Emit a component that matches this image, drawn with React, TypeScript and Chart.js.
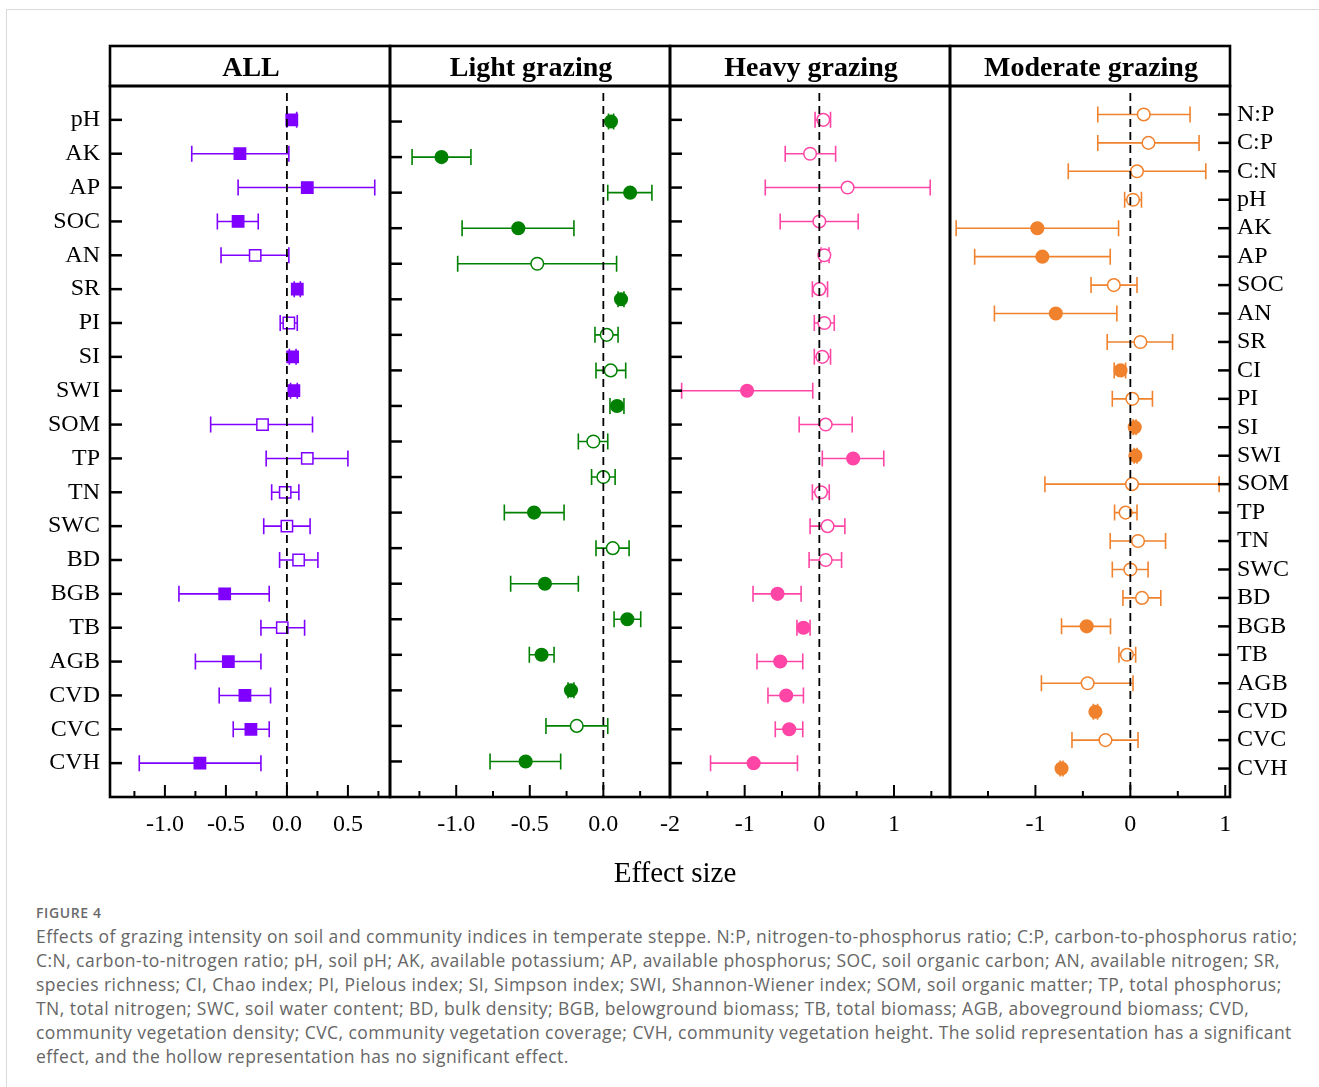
import React, { useEffect, useRef } from 'react';
import { Chart, registerables } from 'chart.js';

Chart.register(...registerables);

const SERIF = "'Liberation Serif', 'Times New Roman', serif";
const CAPTION_FONT = "'Open Sans', 'Noto Sans', sans-serif";

// ---- ALL ----
const allCategories = ['pH', 'AK', 'AP', 'SOC', 'AN', 'SR', 'PI', 'SI', 'SWI', 'SOM', 'TP', 'TN', 'SWC', 'BD', 'BGB', 'TB', 'AGB', 'CVD', 'CVC', 'CVH'];
const allMean = [0.04, -0.385, 0.167, -0.4, -0.26, 0.085, 0.016, 0.047, 0.057, -0.2, 0.167, -0.014, 0.0, 0.096, -0.51, -0.038, -0.48, -0.344, -0.295, -0.713];
const allLower = [0.0, -0.78, -0.4, -0.57, -0.54, 0.06, -0.055, 0.02, 0.03, -0.625, -0.17, -0.125, -0.19, -0.06, -0.885, -0.213, -0.75, -0.555, -0.44, -1.21];
const allUpper = [0.08, 0.016, 0.72, -0.235, 0.016, 0.11, 0.085, 0.075, 0.085, 0.21, 0.5, 0.098, 0.19, 0.254, -0.145, 0.145, -0.213, -0.134, -0.145, -0.213];
const allSignificant = [true, true, true, true, false, true, false, true, true, false, false, false, false, false, true, false, true, true, true, true];

// ---- Light grazing ----
const lightCategories = ['pH', 'AK', 'AP', 'SOC', 'AN', 'SR', 'PI', 'SI', 'SWI', 'SOM', 'TP', 'TN', 'SWC', 'BGB', 'TB', 'AGB', 'CVD', 'CVC', 'CVH'];
const lightMean = [0.052, -1.1, 0.182, -0.578, -0.449, 0.12, 0.023, 0.05, 0.093, -0.068, 0.0, -0.471, 0.064, -0.397, 0.163, -0.42, -0.22, -0.181, -0.528];
const lightLower = [0.035, -1.3, 0.03, -0.96, -0.99, 0.1, -0.057, -0.05, 0.045, -0.17, -0.08, -0.673, -0.05, -0.63, 0.073, -0.503, -0.24, -0.39, -0.77];
const lightUpper = [0.07, -0.9, 0.33, -0.2, 0.09, 0.14, 0.1, 0.152, 0.14, 0.03, 0.08, -0.267, 0.175, -0.17, 0.254, -0.335, -0.2, 0.03, -0.29];
const lightSignificant = [true, true, true, true, false, true, false, false, true, false, false, true, false, true, true, true, true, false, true];

// ---- Heavy grazing ----
const heavyCategories = ['pH', 'AK', 'AP', 'SOC', 'AN', 'SR', 'PI', 'SI', 'SWI', 'SOM', 'TP', 'TN', 'SWC', 'BD', 'BGB', 'TB', 'AGB', 'CVD', 'CVC', 'CVH'];
const heavyMean = [0.053, -0.124, 0.378, 0.0, 0.067, 0.0, 0.067, 0.04, -0.968, 0.085, 0.453, 0.022, 0.11, 0.085, -0.56, -0.213, -0.524, -0.444, -0.404, -0.88];
const heavyLower = [-0.057, -0.457, -0.724, -0.524, 0.022, -0.093, -0.067, -0.067, -1.844, -0.27, 0.04, -0.093, -0.124, -0.137, -0.888, -0.3, -0.835, -0.688, -0.59, -1.457];
const heavyUpper = [0.15, 0.218, 1.485, 0.52, 0.13, 0.11, 0.2, 0.15, -0.088, 0.44, 0.863, 0.133, 0.342, 0.298, -0.244, -0.124, -0.222, -0.213, -0.222, -0.293];
const heavySignificant = [false, false, false, false, false, false, false, false, true, false, true, false, false, false, true, true, true, true, true, true];

// ---- Moderate grazing ----
const moderateCategories = ['N:P', 'C:P', 'C:N', 'pH', 'AK', 'AP', 'SOC', 'AN', 'SR', 'CI', 'PI', 'SI', 'SWI', 'SOM', 'TP', 'TN', 'SWC', 'BD', 'BGB', 'TB', 'AGB', 'CVD', 'CVC', 'CVH'];
const moderateMean = [0.141, 0.191, 0.07, 0.028, -0.98, -0.927, -0.174, -0.785, 0.106, -0.103, 0.021, 0.046, 0.053, 0.017, -0.05, 0.081, 0.0, 0.123, -0.46, -0.036, -0.45, -0.368, -0.262, -0.725];
const moderateLower = [-0.343, -0.343, -0.654, -0.06, -1.835, -1.64, -0.414, -1.432, -0.244, -0.17, -0.19, 0.03, 0.04, -0.9, -0.166, -0.212, -0.19, -0.078, -0.725, -0.12, -0.937, -0.39, -0.615, -0.74];
const moderateUpper = [0.629, 0.724, 0.795, 0.117, -0.124, -0.212, 0.07, -0.142, 0.445, -0.05, 0.233, 0.06, 0.07, 0.936, 0.07, 0.371, 0.187, 0.321, -0.209, 0.056, 0.028, -0.345, 0.081, -0.71];
const moderateSignificant = [false, false, false, false, true, true, false, true, false, true, false, true, true, false, false, false, false, false, true, false, false, true, false, true];

// ---- x-axis ticks (empty label = minor tick) ----
const fineTicks = [-1.25, -1.0, -0.75, -0.5, -0.25, 0, 0.25, 0.5, 0.75];
const fineTickLabels = ['', '-1.0', '', '-0.5', '', '0.0', '', '0.5', ''];
const lightTicks = [-1.25, -1.0, -0.75, -0.5, -0.25, 0, 0.25];
const lightTickLabels = ['', '-1.0', '', '-0.5', '', '0.0', ''];
const heavyTicks = [-2, -1.5, -1, -0.5, 0, 0.5, 1, 1.5];
const heavyTickLabels = ['-2', '', '-1', '', '0', '', '1', ''];
const moderateTicks = [-1.5, -1, -0.5, 0, 0.5, 1];
const moderateTickLabels = ['', '-1', '', '0', '', '1'];

const CANVAS_W = 1319;
const CANVAS_H = 900;
const PLOT_TOP = 86;
const PLOT_BOTTOM = 797;
const HEADER_TOP = 46;
const X_AXIS_H = 60;

type Panel = {
  title: string;
  categories: string[];
  mean: number[];
  lower: number[];
  upper: number[];
  significant: boolean[];
  color: string;
  shape: 'rect' | 'circle';
  xMin: number;
  xMax: number;
  xTicks: number[];
  xTickLabels: string[];
  left: number;
  right: number;
  labelSide: 'left' | 'right' | 'none';
};

const panels: Panel[] = [
  {
    title: 'ALL', categories: allCategories, mean: allMean, lower: allLower, upper: allUpper,
    significant: allSignificant, color: '#7f00ff', shape: 'rect', xMin: -1.45, xMax: 0.845,
    xTicks: fineTicks, xTickLabels: fineTickLabels, left: 110, right: 390, labelSide: 'left',
  },
  {
    title: 'Light grazing', categories: lightCategories, mean: lightMean, lower: lightLower, upper: lightUpper,
    significant: lightSignificant, color: '#008000', shape: 'circle', xMin: -1.45, xMax: 0.453,
    xTicks: lightTicks, xTickLabels: lightTickLabels, left: 390, right: 670, labelSide: 'none',
  },
  {
    title: 'Heavy grazing', categories: heavyCategories, mean: heavyMean, lower: heavyLower, upper: heavyUpper,
    significant: heavySignificant, color: '#ff45a5', shape: 'circle', xMin: -2, xMax: 1.75,
    xTicks: heavyTicks, xTickLabels: heavyTickLabels, left: 670, right: 950, labelSide: 'none',
  },
  {
    title: 'Moderate grazing', categories: moderateCategories, mean: moderateMean, lower: moderateLower, upper: moderateUpper,
    significant: moderateSignificant, color: '#f0822d', shape: 'circle', xMin: -1.9, xMax: 1.05,
    xTicks: moderateTicks, xTickLabels: moderateTickLabels, left: 950, right: 1230, labelSide: 'right',
  },
];

const captionLines = [
  'Effects of grazing intensity on soil and community indices in temperate steppe. N:P, nitrogen-to-phosphorus ratio; C:P, carbon-to-phosphorus ratio;',
  'C:N, carbon-to-nitrogen ratio; pH, soil pH; AK, available potassium; AP, available phosphorus; SOC, soil organic carbon; AN, available nitrogen; SR,',
  'species richness; CI, Chao index; PI, Pielous index; SI, Simpson index; SWI, Shannon-Wiener index; SOM, soil organic matter; TP, total phosphorus;',
  'TN, total nitrogen; SWC, soil water content; BD, bulk density; BGB, belowground biomass; TB, total biomass; AGB, aboveground biomass; CVD,',
  'community vegetation density; CVC, community vegetation coverage; CVH, community vegetation height. The solid representation has a significant',
  'effect, and the hollow representation has no significant effect.',
];

// Error bars under the markers; zero line, frame, inward ticks and header on top.
function panelPlugin(p: Panel) {
  return {
    id: 'forestPanel',
    beforeDatasetsDraw(chart: any) {
      const { ctx, scales } = chart;
      const x = scales.x;
      const y = scales.y;
      ctx.save();
      ctx.strokeStyle = p.color;
      ctx.lineWidth = 1.6;
      p.mean.forEach((_, i) => {
        const yy = y.getPixelForValue(i);
        const x0 = x.getPixelForValue(p.lower[i]);
        const x1 = x.getPixelForValue(p.upper[i]);
        ctx.beginPath();
        ctx.moveTo(x0, yy);
        ctx.lineTo(x1, yy);
        ctx.moveTo(x0, yy - 8);
        ctx.lineTo(x0, yy + 8);
        ctx.moveTo(x1, yy - 8);
        ctx.lineTo(x1, yy + 8);
        ctx.stroke();
      });
      ctx.restore();
    },
    afterDatasetsDraw(chart: any) {
      const { ctx, chartArea: a, scales } = chart;
      const x = scales.x;
      const y = scales.y;
      ctx.save();

      // zero reference line
      const zx = x.getPixelForValue(0);
      ctx.strokeStyle = '#000';
      ctx.lineWidth = 1.8;
      ctx.setLineDash([8, 5]);
      ctx.beginPath();
      ctx.moveTo(zx, a.top + 7);
      ctx.lineTo(zx, a.bottom);
      ctx.stroke();
      ctx.setLineDash([]);

      // inward ticks on the bottom axis
      ctx.lineWidth = 2;
      p.xTicks.forEach((v, i) => {
        const px = x.getPixelForValue(v);
        const len = p.xTickLabels[i] ? 12 : 6;
        ctx.beginPath();
        ctx.moveTo(px, a.bottom);
        ctx.lineTo(px, a.bottom - len);
        ctx.stroke();
      });

      // inward ticks on the category axis
      ctx.lineWidth = 2.5;
      p.categories.forEach((_, i) => {
        const py = y.getPixelForValue(i);
        ctx.beginPath();
        if (p.labelSide === 'right') {
          ctx.moveTo(a.right - 12, py);
          ctx.lineTo(a.right, py);
        } else {
          ctx.moveTo(a.left, py);
          ctx.lineTo(a.left + 12, py);
        }
        ctx.stroke();
      });

      // panel frame and header box
      ctx.lineWidth = 2.6;
      ctx.strokeRect(a.left, a.top, a.right - a.left, a.bottom - a.top);
      ctx.strokeRect(a.left, HEADER_TOP, a.right - a.left, a.top - HEADER_TOP);

      ctx.fillStyle = '#000';
      ctx.font = `bold 28px ${SERIF}`;
      ctx.textAlign = 'center';
      ctx.textBaseline = 'alphabetic';
      ctx.fillText(p.title, (a.left + a.right) / 2 + 1, 76);
      ctx.restore();
    },
  };
}

function ForestPanel({ p }: { p: Panel }) {
  const ref = useRef<HTMLCanvasElement | null>(null);

  useEffect(() => {
    const canvas = ref.current;
    if (!canvas) return;
    const n = p.categories.length;
    const yAxisW = p.labelSide === 'none' ? 0 : p.labelSide === 'left' ? 100 : 80;
    const padLeft = p.labelSide === 'left' ? p.left - yAxisW : p.left;
    const padRight = p.labelSide === 'right' ? CANVAS_W - p.right - yAxisW : CANVAS_W - p.right;

    const chart = new Chart(canvas, {
      type: 'scatter',
      data: {
        datasets: [
          {
            data: p.mean.map((m, i) => ({ x: m, y: i })),
            pointStyle: p.shape,
            pointRadius: p.shape === 'rect' ? 8 : 6.3,
            pointBorderWidth: 1.5,
            pointBackgroundColor: p.significant.map((s) => (s ? p.color : '#ffffff')),
            pointBorderColor: p.color,
            showLine: false,
          },
        ],
      },
      options: {
        animation: false,
        responsive: false,
        maintainAspectRatio: false,
        events: [],
        layout: {
          autoPadding: false,
          padding: { left: padLeft, right: padRight, top: PLOT_TOP, bottom: CANVAS_H - PLOT_BOTTOM - X_AXIS_H },
        },
        plugins: { legend: { display: false }, tooltip: { enabled: false } },
        scales: {
          x: {
            type: 'linear',
            position: 'bottom',
            min: p.xMin,
            max: p.xMax,
            grid: { display: false, drawTicks: false },
            border: { display: false },
            ticks: {
              autoSkip: false,
              maxRotation: 0,
              padding: 13,
              color: '#000',
              font: { family: SERIF, size: 24 },
              callback: (_v: any, i: number) => p.xTickLabels[i] ?? '',
            },
            afterBuildTicks: (s: any) => {
              s.ticks = p.xTicks.map((v) => ({ value: v }));
            },
            afterFit: (s: any) => {
              s.height = X_AXIS_H;
            },
          },
          y: {
            type: 'linear',
            display: p.labelSide !== 'none',
            position: p.labelSide === 'right' ? 'right' : 'left',
            min: -1,
            max: n,
            reverse: true,
            grid: { display: false, drawTicks: false },
            border: { display: false },
            ticks: {
              autoSkip: false,
              padding: p.labelSide === 'right' ? 7 : 10,
              color: '#000',
              font: { family: SERIF, size: 24 },
              callback: (_v: any, i: number) => p.categories[i] ?? '',
            },
            afterBuildTicks: (s: any) => {
              s.ticks = p.categories.map((_, i) => ({ value: i }));
            },
            afterFit: (s: any) => {
              s.width = yAxisW;
            },
          },
        },
      } as any,
      plugins: [panelPlugin(p)],
    });
    return () => chart.destroy();
  }, [p]);

  return (
    <canvas
      ref={ref}
      width={CANVAS_W}
      height={CANVAS_H}
      style={{ position: 'absolute', left: 0, top: 0, width: CANVAS_W, height: CANVAS_H }}
    />
  );
}

export default function App() {
  return (
    <div
      style={{
        position: 'absolute',
        left: 0,
        top: 0,
        width: 1319,
        height: 1087,
        overflow: 'hidden',
        background: '#fff',
      }}
    >
      <div
        style={{
          position: 'absolute',
          left: 6,
          top: 9,
          width: 1400,
          height: 1200,
          border: '1px solid #d9d9d9',
        }}
      />
      {panels.map((p) => (
        <ForestPanel key={p.title} p={p} />
      ))}
      <div
        style={{
          position: 'absolute',
          left: 475,
          width: 400,
          top: 858,
          textAlign: 'center',
          fontFamily: SERIF,
          fontSize: 29,
          lineHeight: '29px',
          color: '#000',
        }}
      >
        Effect size
      </div>
      <div
        style={{
          position: 'absolute',
          left: 36,
          top: 903,
          fontFamily: CAPTION_FONT,
          fontSize: 14,
          fontWeight: 600,
          letterSpacing: '0.6px',
          lineHeight: '20px',
          color: '#6a6a6a',
        }}
      >
        FIGURE 4
      </div>
      <div
        style={{
          position: 'absolute',
          left: 36,
          top: 924,
          fontFamily: CAPTION_FONT,
          fontSize: 17.5,
          letterSpacing: '0.45px',
          lineHeight: '24px',
          color: '#666666',
        }}
      >
        {captionLines.map((line, i) => (
          <div key={i} style={{ whiteSpace: 'pre' }}>
            {line}
          </div>
        ))}
      </div>
    </div>
  );
}
